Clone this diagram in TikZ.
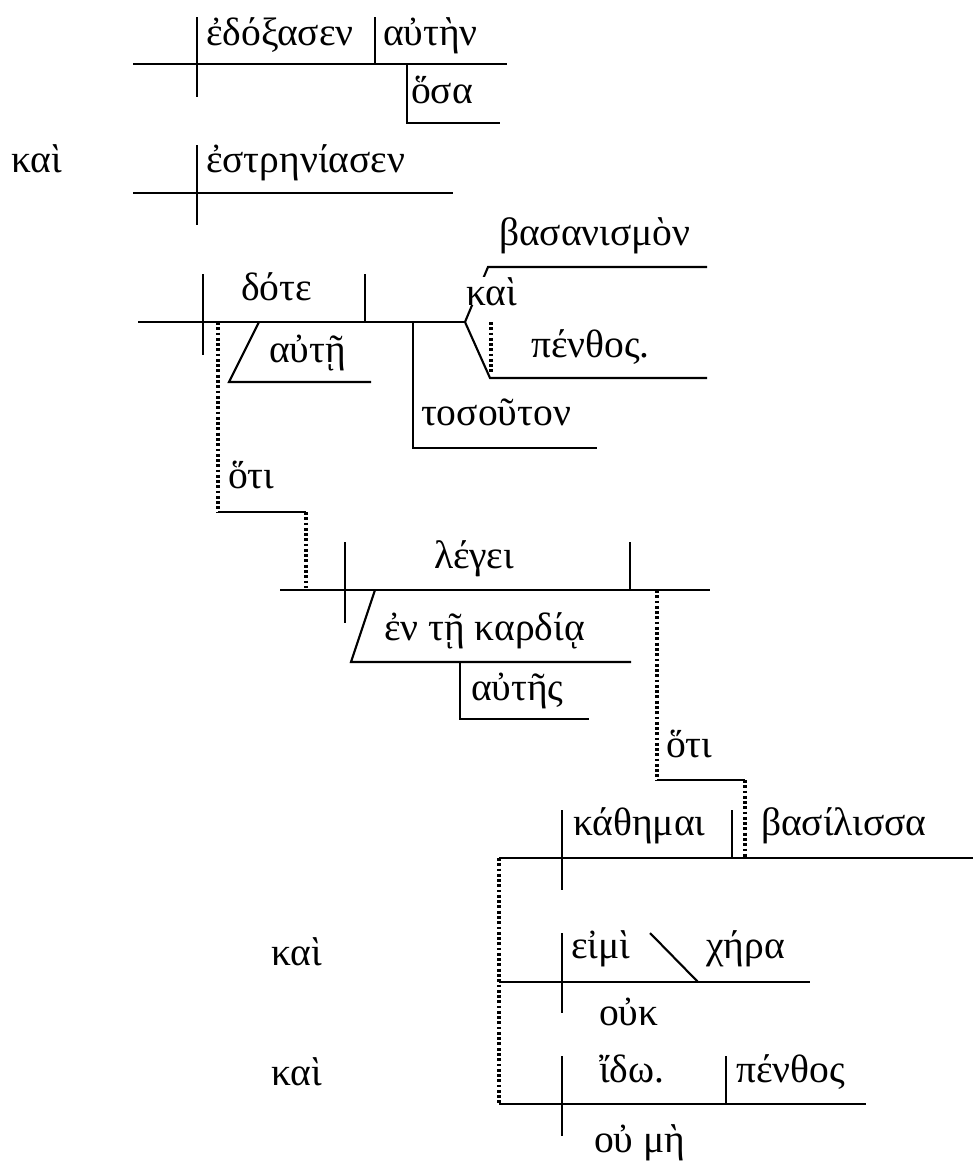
\documentclass[tikz,border=0pt]{standalone}
\usepackage{fontspec}
\setmainfont{Liberation Serif}
\usepackage{tikz}
\tikzset{w/.style={font=\fontsize{22.5}{22.5}\selectfont, inner sep=0pt, anchor=base west}}
\tikzset{dots/.style={line width=1.8pt, dash pattern=on 1.6pt off 1.4pt}}

\begin{document}
\begin{tikzpicture}[x=0.02cm,y=-0.02cm,line width=1.2pt]
  \useasboundingbox (0,0) rectangle (973,1163);
  % first clause
  \draw (133,64) -- (507,64);
  \draw (197,17) -- (197,97);
  \draw (375,17) -- (375,64);
  \draw (407,64) -- (407,123) -- (500,123);
  \node[w] (edox) at (205,45) {ἐδόξασεν};
  \node[w] (auten) at (382,45) {αὐτὴν};
  \node[w] (hosa) at (410,103) {ὅσα};
  % second clause
  \node[w] (kai1) at (10,172) {καὶ};
  \draw (133,193) -- (453,193);
  \draw (197,145) -- (197,225);
  \node[w] (estr) at (205,172) {ἐστρηνίασεν};
  % dote
  \draw (138,322) -- (465,322);
  \draw (203,274) -- (203,355);
  \draw (365,274) -- (365,322);
  \draw (259,322) -- (229,382) -- (371,382);
  \draw (413,322) -- (413,448) -- (597,448);
  \coordinate (fork) at (465,322);
  \draw (fork) -- (488,267) -- (707,267);
  \draw (fork) -- (490,378) -- (707,378);
  \draw[dots] (491,322) -- (491,374);
  \node[w] (dote) at (240,300) {δότε};
  \node[w] (aute) at (268,362) {αὐτῇ};
  \node[w] (tosout) at (420,425) {τοσοῦτον};
  \node[w] (basan) at (498,245) {βασανισμὸν};
  \node[w, fill=white] (kai2) at (465,305) {καὶ};
  \node[w] (penth1) at (530,357) {πένθος.};
  % hoti -> legei
  \coordinate (h1a) at (218,322);
  \coordinate (h1b) at (218,512);
  \coordinate (h1c) at (306,512);
  \coordinate (h1d) at (306,588);
  \draw[dots] (h1a) -- (h1b);
  \draw (h1b) -- (h1c);
  \draw[dots] (h1c) -- (h1d);
  \node[w] (hoti1) at (227,488) {ὅτι};
  \draw (280,590) -- (710,590);
  \draw (345,542) -- (345,623);
  \draw (630,542) -- (630,590);
  \draw (375,590) -- (351,662) -- (631,662);
  \draw (460,662) -- (460,719) -- (589,719);
  \node[w] (legei) at (433,568) {λέγει};
  \node[w] (kardia) at (383,640) {ἐν τῇ καρδίᾳ};
  \node[w] (autes) at (470,700) {αὐτῆς};
  % hoti -> kathemai
  \coordinate (h2a) at (657,590);
  \coordinate (h2b) at (657,780);
  \coordinate (h2c) at (745,780);
  \coordinate (h2d) at (745,858);
  \draw[dots] (h2a) -- (h2b);
  \draw (h2b) -- (h2c);
  \draw[dots] (h2c) -- (h2d);
  \node[w] (hoti2) at (665,757) {ὅτι};
  \draw (499,858) -- (973,858);
  \draw (562,810) -- (562,890);
  \draw (732,810) -- (732,858);
  \node[w] (kath) at (572,835) {κάθημαι};
  \node[w] (basil) at (760,835) {βασίλισσα};
  % compound with kai
  \draw[dots] (499,858) -- (499,1104);
  \draw (499,982) -- (810,982);
  \draw (562,933) -- (562,1013);
  \draw (650,933) -- (698,982);
  \node[w] (kai3) at (270,965) {καὶ};
  \node[w] (eimi) at (570,958) {εἰμὶ};
  \node[w] (chera) at (705,958) {χήρα};
  \node[w] (ouk) at (598,1025) {οὐκ};
  \draw (499,1104) -- (866,1104);
  \draw (562,1056) -- (562,1136);
  \draw (726,1056) -- (726,1104);
  \node[w] (kai4) at (270,1085) {καὶ};
  \node[w] (ido) at (598,1082) {ἴδω.};
  \node[w] (penth2) at (735,1082) {πένθος};
  \node[w] (oume) at (593,1152) {οὐ μὴ};
\end{tikzpicture}
\end{document}
